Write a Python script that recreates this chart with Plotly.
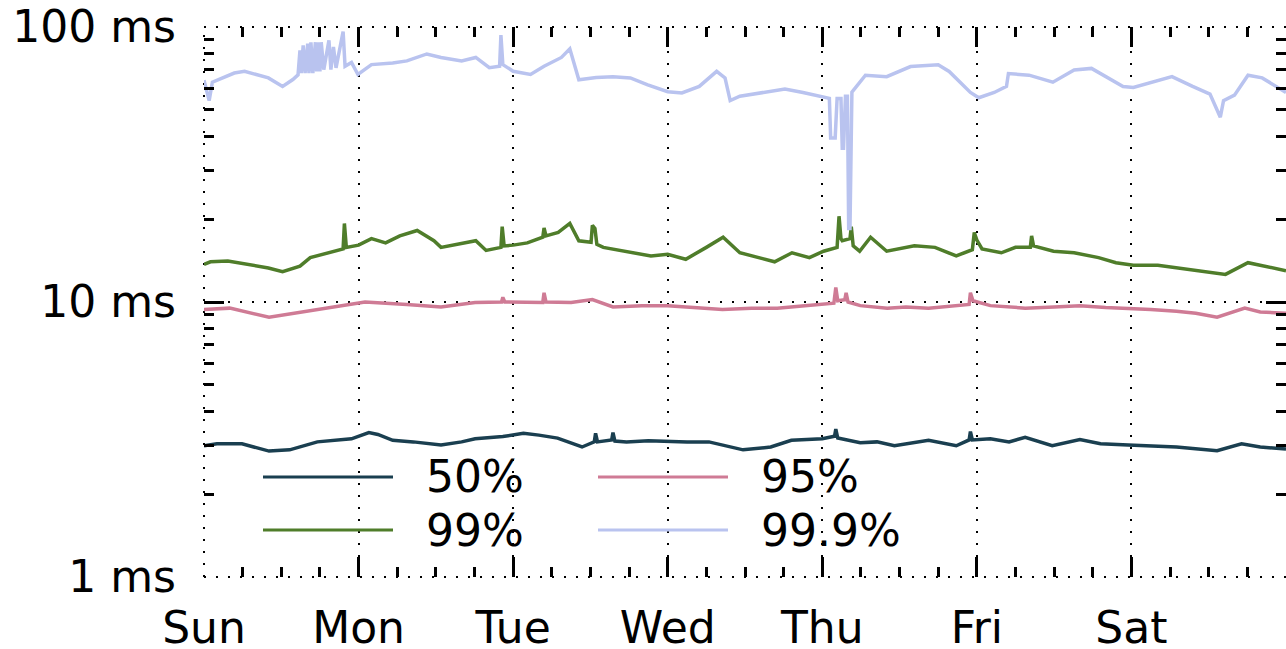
import plotly.graph_objects as go

# ---------------- data (hours since Sunday 00:00, latency in ms) ----------------
days = ["Sun", "Mon", "Tue", "Wed", "Thu", "Fri", "Sat"]
day_hours = [0, 24, 48, 72, 96, 120, 144]
y_tick_vals = [1, 10, 100]
y_tick_text = ["1 ms", "10 ms", "100 ms"]

p50_hours = [0, 2, 5.9, 10.1, 13.3, 17.6, 22.9, 25.6, 27, 29.3, 32.5, 36.8, 40, 42.1, 46.4, 49.6, 52,
             54.9, 58.7, 60.6, 60.8, 61.1, 63.3, 63.5, 63.8, 65.6, 69, 72, 75, 78.4, 83.7, 88, 91.2, 96,
             97.9, 98.1, 98.4, 101.9, 104.5, 107.2, 112.5, 116.8, 118.8, 119, 119.3, 122.1, 125, 127.5,
             131.7, 136, 139.2, 143.5, 147, 151, 157.3, 161.1, 164, 168]
p50_ms = [3.0, 3.05, 3.05, 2.87, 2.9, 3.1, 3.18, 3.35, 3.3, 3.14, 3.1, 3.02, 3.1, 3.18, 3.24, 3.33, 3.28,
          3.2, 2.97, 3.1, 3.33, 3.1, 3.15, 3.35, 3.12, 3.1, 3.13, 3.11, 3.1, 3.1, 2.9, 2.97, 3.14, 3.18,
          3.25, 3.45, 3.2, 3.08, 3.1, 3.0, 3.14, 3.0, 3.15, 3.38, 3.15, 3.18, 3.1, 3.22,
          3.0, 3.16, 3.05, 3.02, 3.0, 2.97, 2.88, 3.05, 2.97, 2.92]

p95_hours = [0, 4, 10.1, 15.5, 20.8, 25, 31.5, 36.8, 42.1, 46.2, 46.4, 46.7, 52.6, 52.8, 53.1, 57, 60.3,
             63.5, 68, 72, 76, 80.5, 85, 89, 93.3, 96, 97.8, 98.1, 98.4, 99.5, 99.7, 100, 101.9, 106.1,
             109, 112.5, 116.8, 118.8, 119, 119.4, 122.1, 127.5, 132, 136, 140, 143.5, 147, 151, 154,
             157.3, 161.6, 164, 168]
p95_ms = [9.4, 9.5, 8.8, 9.2, 9.6, 10.0, 9.8, 9.6, 9.95, 10.0, 10.4, 10.0, 9.95, 10.8, 10.0, 9.95, 10.2,
          9.6, 9.7, 9.7, 9.55, 9.4, 9.5, 9.5, 9.7, 9.8, 9.9, 11.3, 10.1, 10.2, 10.8, 10.0, 9.7, 9.5,
          9.6, 9.5, 9.7, 9.8, 10.8, 10.1, 9.7, 9.5, 9.6, 9.7, 9.55, 9.5, 9.4, 9.25, 9.1,
          8.8, 9.5, 9.2, 9.1]

p99_hours = [0, 1, 3.7, 6.3, 10, 12.2, 14.9, 16.5, 18.6, 20.8, 21.6, 21.8, 22.1, 24, 26, 28.2, 30.4, 33.1,
             35.7, 36.8, 40, 42.2, 43.8, 46.1, 46.3, 46.6, 48, 50.2, 52.6, 52.8, 53.1, 55, 56.8, 58.2,
             60.1, 60.3, 60.7, 61, 62, 66.2, 69.4, 72, 74.8, 78, 80.6, 83.2, 88.6, 91.3, 94, 96.2, 98.3,
             98.6, 98.9, 99.1, 100.3, 100.5, 100.8, 101.8, 103.5, 106, 110.3, 113.5, 116.8, 119.3, 119.6,
             120.0, 120.8, 123.8, 126, 128.3, 128.5, 128.8, 131.9, 135.1, 138.9, 141.6, 144.3, 148.1,
             152.4, 158.6, 162.1, 168]
p99_ms = [13.7, 14.0, 14.1, 13.8, 13.3, 12.9, 13.5, 14.5, 14.9, 15.4, 15.6, 19.3, 15.8, 16.1, 17, 16.4, 17.4, 18.2,
          16.7, 15.8, 16.4, 16.7, 15.4, 15.8, 18.8, 16, 16.1, 16.4, 17.2, 18.6, 17.4, 17.9, 19.3, 16.7,
          16.5, 19, 18.5, 16.2, 15.8, 15.2, 14.7, 14.9, 14.3, 15.8, 17.2, 15.1, 14, 15.1, 14.5, 15.3, 15.8,
          20.5, 17, 16.7, 17, 18.8, 16, 15.3, 17.2, 15.3, 16, 15.8, 14.7, 15.5, 17.9,
          16.8, 15.6, 15.1, 15.8, 15.8, 17.4, 16, 15.3, 15.1, 14.5, 13.9, 13.6, 13.6,
          13.2, 12.6, 13.9, 13.0]

p999_hours = [0, 0.8, 1.3, 4.7, 6.3, 10, 12.2, 13.8, 14.6,
              14.9, 15.1, 15.4, 15.7, 16.1, 16.3, 16.6, 16.9, 17.3, 17.5, 17.8, 18.0, 18.2, 18.6, 19.4,
              19.7, 20.1, 20.5, 21.6, 21.9,
              22.9, 23.9, 26, 29.3, 31.5, 34.6, 36.8, 40, 42.2, 44.3, 45.9, 46.1, 46.4, 48, 50.7, 52.8,
              55.5, 56.8, 58.2, 60.9, 63.5, 66.2, 68.9, 72, 74.2, 76.9, 79.6, 80.9, 81.7, 83.2, 86.5,
              90.2, 93, 96.2,
              97.1, 97.3, 98.0, 98.3, 98.9, 99.1, 99.3, 99.6, 99.9, 100.1, 100.3, 100.6,
              101.2, 102.7, 106, 109.7, 114, 115.7, 119, 120.3, 122.7, 124.6, 124.9, 128.1, 131.8,
              135.1, 137.8, 140, 142.7, 144.3, 147, 150.3, 153.5, 156.2, 157.8, 158.3, 160, 162.1,
              164.3, 168]
p999_ms = [64, 54, 63, 68, 69, 65.3, 60.8, 64.4, 67,
           82.2, 68, 85.8, 68, 87, 68, 88, 68, 88, 69, 88, 69, 88, 70, 89.5,
           70, 84.6, 71, 96.3, 72,
           74.3, 67.2, 73, 74, 75.3, 79.8, 77.5, 75.3, 77.5, 71.1, 72, 93.5, 73, 69, 67.2, 72,
           77.5, 83.3, 64.3, 65.5, 66, 65.3, 61.6, 58.2, 57.6, 60.8, 69, 65.3, 54, 56, 57.8,
           59.5, 57.8, 55.3,
           55, 39.5, 39.5, 55, 55, 36.2, 36.2, 56, 56, 18.5, 18.5, 58,
           60.3, 66.8, 66, 71.8, 72.9, 68.9, 57.8, 55.3, 57.8, 60.8, 67.7, 66.8, 63,
           69.8, 70.7, 66, 60.8, 60.3, 63, 66, 60.8, 57, 47, 54, 56.5, 66.8,
           65.3, 57.8]

series_names = ["50%", "95%", "99%", "99.9%"]
series_colors = ["#1a3f50", "#cf7b95", "#4f7d2a", "#b9c3ef"]

# ---------------- figure ----------------
FONT = "DejaVu Sans"
FS = 44
DOT = "2px,10px"
fig = go.Figure()
for name, hrs, vals, col in zip(series_names,
                                 [p50_hours, p95_hours, p99_hours, p999_hours],
                                 [p50_ms, p95_ms, p99_ms, p999_ms],
                                 series_colors):
    fig.add_trace(go.Scatter(x=hrs, y=vals, mode="lines", name=name,
                             line=dict(color=col, width=3.5), showlegend=False))

minor_x = [h for h in range(0, 169, 6) if h % 24 != 0]
minor_y = [m * 10 ** e for e in range(0, 2) for m in range(2, 10)]

fig.update_xaxes(
    range=[0, 168], tickmode="array", tickvals=day_hours, ticktext=days,
    ticks="inside", ticklen=20, tickwidth=3, tickcolor="black",
    mirror="ticks", showline=False, zeroline=False, automargin=False,
    showgrid=True, gridcolor="black", gridwidth=2, griddash=DOT,
    minor=dict(tickmode="array", tickvals=minor_x, ticks="inside", ticklen=10,
               tickwidth=3, tickcolor="black", showgrid=False),
    tickfont=dict(family=FONT, size=FS, color="black"), ticklabelstandoff=21,
)
fig.update_yaxes(
    type="log", range=[0, 2], tickmode="array", tickvals=y_tick_vals, ticktext=y_tick_text,
    ticks="inside", ticklen=20, tickwidth=3, tickcolor="black",
    mirror="ticks", showline=False, zeroline=False, automargin=False,
    showgrid=True, gridcolor="black", gridwidth=2, griddash=DOT,
    minor=dict(tickmode="array", tickvals=minor_y, ticks="inside", ticklen=10,
               tickwidth=3, tickcolor="black", showgrid=False),
    tickfont=dict(family=FONT, size=FS, color="black"), ticklabelstandoff=27,
)

# dotted grid along the plot edges (plotly omits edge gridlines)
for (x0, y0, x1, y1) in [(0, 0, 0, 1), (0, 0, 1, 0), (0, 1, 1, 1)]:
    fig.add_shape(type="line", xref="paper", yref="paper", x0=x0, y0=y0, x1=x1, y1=y1,
                  layer="below", line=dict(color="black", width=2, dash=DOT))

# ---------------- legend (drawn manually: long sample lines) ----------------
W, H = 1082.0, 550.0
L, T = 204.0, 27.0
legend_rows = [477, 530]
legend_cols = [(263, 393, 424), (598, 728, 759)]
order = [(0, 0), (0, 1), (1, 0), (1, 1)]  # (row, col) for each series
for (r, c), name, col in zip(order, series_names, series_colors):
    x0, x1, xt = legend_cols[c]
    py = legend_rows[r]
    yp = (T + H - py) / H
    fig.add_shape(type="line", xref="paper", yref="paper",
                  x0=(x0 - L) / W, x1=(x1 - L) / W, y0=yp, y1=yp,
                  line=dict(color=col, width=3))
    fig.add_annotation(xref="paper", yref="paper", x=(xt - L) / W, y=yp,
                       text=name, showarrow=False, xanchor="left", yanchor="middle",
                       font=dict(family=FONT, size=FS, color="black"))

fig.update_layout(
    width=1286, height=649,
    margin=dict(l=204, r=0, t=27, b=72, autoexpand=False),
    paper_bgcolor="white", plot_bgcolor="white",
    font=dict(family=FONT, color="black"),
    showlegend=False,
)

fig.write_html("out.html", config={"displayModeBar": False},
               post_script="document.body.style.margin='0';document.body.style.overflow='hidden';")
